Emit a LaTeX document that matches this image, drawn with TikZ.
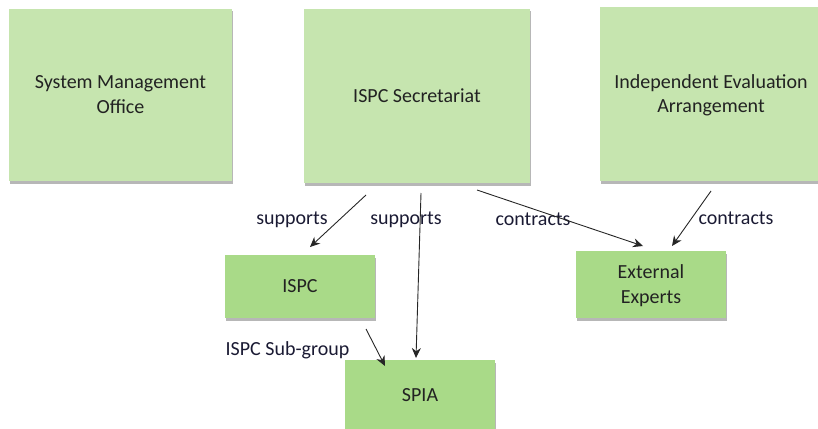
\documentclass[tikz,border=0pt]{standalone}
\usepackage{fontspec}
\setmainfont{Carlito}
\usetikzlibrary{shadows,arrows.meta}
\definecolor{lightbox}{HTML}{C6E5AF}
\definecolor{darkbox}{HTML}{A9DA88}
\definecolor{txt}{HTML}{222222}
\definecolor{lbl}{HTML}{1A1A33}
\tikzset{
  bigbox/.style={fill=lightbox, draw=none, minimum width=#1, text=txt, align=center,
    drop shadow={shadow xshift=0.5pt, shadow yshift=-2.5pt, opacity=0.4, fill=black!70}},
  smallbox/.style={fill=darkbox, draw=none, minimum width=150pt, text=txt, align=center,
    drop shadow={shadow xshift=0.5pt, shadow yshift=-2.5pt, opacity=0.4, fill=black!70}},
  lab/.style={text=lbl, inner sep=0pt},
  arr/.style={draw=black!85, line width=0.9pt, -{Stealth[length=10pt,width=9pt]}}
}
\begin{document}
\begin{tikzpicture}[x=1pt,y=-1pt, font=\fontsize{20}{24.5}\selectfont]
\useasboundingbox (0,0) rectangle (818,428);
\node[bigbox=223pt, minimum height=172pt, text depth=1pt] (smo) at (120.5,95) {System Management\\Office};
\node[bigbox=226pt, minimum height=174pt] (sec) at (417,96) {ISPC Secretariat};
\node[bigbox=222pt, minimum height=174pt, text depth=1pt] (iea) at (711,94) {Independent Evaluation\\Arrangement};
\node[smallbox, minimum height=63pt] (ispc) at (300,286.5) {ISPC};
\node[smallbox, minimum height=70pt] (spia) at (420,395) {SPIA};
\node[smallbox, minimum height=67pt, text depth=1pt] (ee) at (651,284.5) {External\\Experts};

\coordinate (a1s) at (366,195); \coordinate (a1e) at (310,247);
\coordinate (a2s) at (421,193); \coordinate (a2e) at (416,358);
\coordinate (a3s) at (477,190); \coordinate (a3e) at (643,246);
\coordinate (a4s) at (711,191); \coordinate (a4e) at (672,246);
\coordinate (a5s) at (366,329); \coordinate (a5e) at (385,366);

\node[lab] (l1) at (292,220) {supports};
\node[lab] (l2) at (406,220) {supports};
\node[lab] (l3) at (533,219) {contracts};
\node[lab] (l4) at (736,218) {contracts};
\node[lab] (l5) at (287.5,350) {ISPC Sub-group};

\draw[arr] (a1s) -- (a1e);
\draw[arr] (a2s) -- (a2e);
\draw[arr] (a3s) -- (a3e);
\draw[arr] (a4s) -- (a4e);
\draw[arr] (a5s) -- (a5e);
\end{tikzpicture}
\end{document}
